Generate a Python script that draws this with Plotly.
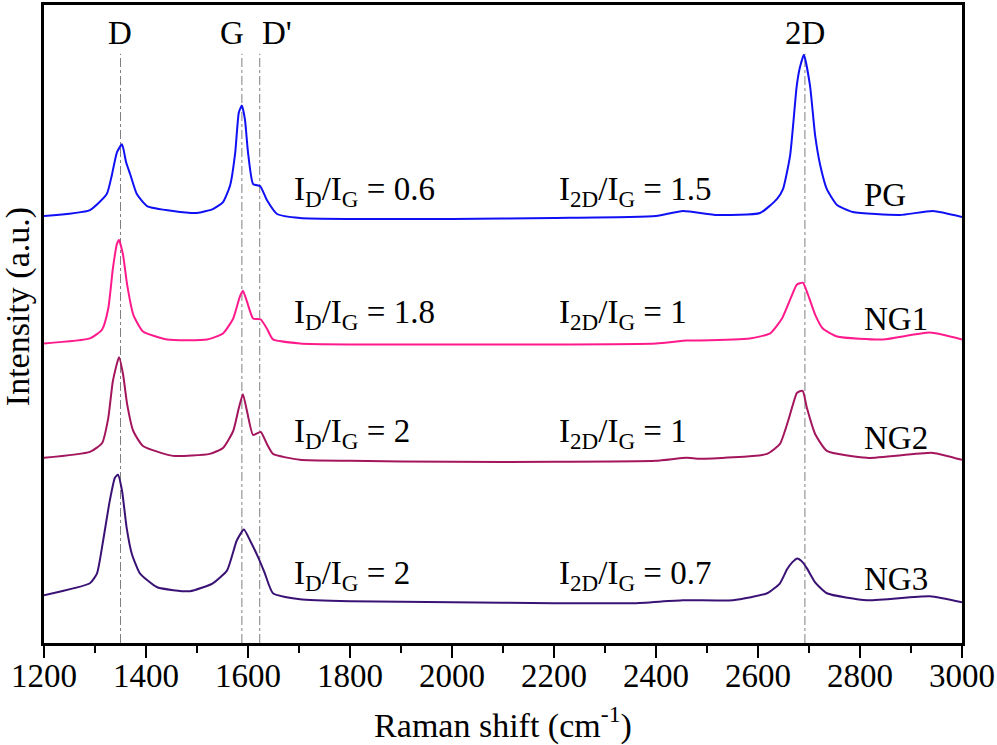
import plotly.graph_objects as go

# ---------------- data (intensity above each curve's own baseline, a.u.) ----------------
pg_x = [1200, 1290, 1323, 1333, 1343, 1353, 1361, 1369, 1382, 1402, 1453, 1500, 1531, 1551, 1565,
        1575, 1582, 1588, 1594, 1600, 1610, 1624, 1637, 1657, 1702, 1800, 2000, 2200, 2400, 2453,
        2520, 2604, 2637, 2649, 2663, 2676, 2682, 2690, 2702, 2712, 2722, 2735, 2755, 2786, 2878,
        2943, 3000]
pg_y = [3, 9, 25, 44, 67, 75, 57, 45, 25, 13, 8, 6, 10, 17, 34,
        67, 107, 114, 100, 67, 35, 33, 19, 5, 1, 0, 0, 1, 3, 8,
        4, 6, 20, 30, 64, 134, 152, 165, 134, 84, 54, 30, 14, 7, 4,
        8, 2]

ng1_x = [1200, 1290, 1314, 1326, 1335, 1343, 1347, 1355, 1363, 1375, 1394, 1441, 1520, 1551, 1571,
         1584, 1590, 1598, 1610, 1625, 1637, 1649, 1702, 1800, 2000, 2200, 2400, 2460, 2486, 2584,
         2624, 2647, 2667, 2676, 2688, 2698, 2712, 2727, 2755, 2845, 2937, 3000]
ng1_y = [1, 6, 15, 36, 76, 101, 105, 90, 60, 30, 13, 5, 5, 11, 26,
         48, 54, 43, 26, 25, 16, 5, 1, 0, 0, 0, 1, 4, 4, 6,
         11, 26, 50, 60, 62, 50, 30, 16, 8, 5, 12, 5]

ng2_x = [1200, 1290, 1314, 1326, 1335, 1347, 1355, 1363, 1375, 1394, 1453, 1525, 1551, 1571, 1582,
         1590, 1598, 1610, 1625, 1637, 1649, 1702, 1800, 2000, 2200, 2400, 2460, 2486, 2618, 2643,
         2659, 2676, 2682, 2688, 2696, 2712, 2735, 2814, 2943, 3000]
ng2_y = [2, 8, 17, 42, 79, 103, 86, 56, 29, 14, 4, 6, 12, 29, 52,
         66, 49, 25, 28, 16, 6, 0, -1, -2, -2, -1, 2, 1, 6, 16,
         39, 67, 69, 69, 52, 26, 9, 2, 7, 0]

ng3_x = [1200, 1290, 1304, 1316, 1329, 1339, 1345, 1353, 1362, 1372, 1388, 1422, 1486, 1531, 1559,
         1578, 1592, 1604, 1620, 1633, 1649, 1702, 1800, 2000, 2200, 2355, 2453, 2551, 2618, 2643,
         2657, 2667, 2677, 2686, 2696, 2712, 2735, 2814, 2937, 3000]
ng3_y = [8, 20, 30, 63, 103, 126, 129, 113, 76, 50, 30, 16, 12, 20, 33,
         63, 74, 63, 46, 30, 10, 4, 2, 1, 0, 0, 3, 3, 10, 20,
         34, 41, 45, 42, 35, 21, 10, 3, 7, 1]

series_names = ["PG", "NG1", "NG2", "NG3"]
series_x = [pg_x, ng1_x, ng2_x, ng3_x]
series_y = [pg_y, ng1_y, ng2_y, ng3_y]
offsets = [426, 300, 184, 40]
colors = ["#1010f5", "#ff1a8c", "#a3155c", "#3a1275"]

id_ig = ["0.6", "1.8", "2", "2"]
i2d_ig = ["1.5", "1", "1", "0.7"]
label_y = [454, 330, 210, 68]       # text rows (same y units as the stacked curves)

peak_names = ["D", "G", "D'", "2D"]
peak_pos = [1350, 1588, 1623, 2692]
peak_label_x = [1349, 1569, 1657, 2692]

x_ticks = list(range(1200, 3001, 200))

FONT = "Liberation Serif, Times New Roman, serif"

fig = go.Figure()

# dash-dot reference lines at peak positions
for p in peak_pos:
    fig.add_shape(type="line", x0=p, x1=p, y0=0, y1=592, xref="x", yref="y",
                  line=dict(color="#808080", width=1, dash="dashdot"), layer="below")

for name, xs, ys, off, c in zip(series_names, series_x, series_y, offsets, colors):
    fig.add_trace(go.Scatter(x=xs, y=[v + off for v in ys], mode="lines", name=name,
                             line=dict(color=c, width=2, shape="spline", smoothing=0.5),
                             showlegend=False, hoverinfo="skip"))

ann = []
for nm, lx in zip(peak_names, peak_label_x):
    ann.append(dict(x=lx, y=613, xref="x", yref="y", text=nm, showarrow=False,
                    font=dict(size=33, family=FONT, color="black"), xanchor="center", yanchor="middle"))

for name, r1, r2, ly, off in zip(series_names, id_ig, i2d_ig, label_y, offsets):
    ann.append(dict(x=1686, y=ly, xref="x", yref="y",
                    text="I<sub>D</sub>/I<sub>G</sub> = " + r1, showarrow=False,
                    font=dict(size=33, family=FONT, color="black"), xanchor="left", yanchor="middle"))
    ann.append(dict(x=2206, y=ly, xref="x", yref="y",
                    text="I<sub>2D</sub>/I<sub>G</sub> = " + r2, showarrow=False,
                    font=dict(size=33, family=FONT, color="black"), xanchor="left", yanchor="middle"))
    ann.append(dict(x=2804, y=ly - 4, xref="x", yref="y", text=name, showarrow=False,
                    font=dict(size=33, family=FONT, color="black"), xanchor="left", yanchor="middle"))

ann.append(dict(x=-0.029, y=0.527, xref="paper", yref="paper", text="Intensity (a.u.)",
                textangle=-90, showarrow=False, xanchor="center", yanchor="middle",
                font=dict(size=34, family=FONT, color="black")))

fig.update_layout(
    width=997, height=745,
    margin=dict(l=44, r=35, t=2, b=102),
    paper_bgcolor="white", plot_bgcolor="white",
    font=dict(family=FONT, color="black"),
    annotations=ann,
    xaxis=dict(range=[1200, 3000], tickvals=x_ticks, ticktext=[str(t) for t in x_ticks],
               ticks="outside", ticklen=12, tickwidth=2, tickcolor="black",
               ticklabelstandoff=-10,
               minor=dict(ticks="outside", ticklen=7, tickwidth=2, tickcolor="black", dtick=100,
                          tick0=1200, showgrid=False),
               showline=True, linecolor="black", linewidth=2.5, mirror=True,
               showgrid=False, zeroline=False,
               tickfont=dict(size=33, family=FONT, color="black"),
               title=dict(text="Raman shift (cm<sup>-1</sup>)", standoff=20,
                          font=dict(size=34, family=FONT, color="black"))),
    yaxis=dict(range=[0, 641], showticklabels=False, ticks="",
               showline=True, linecolor="black", linewidth=2.5, mirror=True,
               showgrid=False, zeroline=False),
)

fig.write_html("out.html", config={"displayModeBar": False},
               post_script="document.body.style.margin='0';document.body.style.padding='0';")
